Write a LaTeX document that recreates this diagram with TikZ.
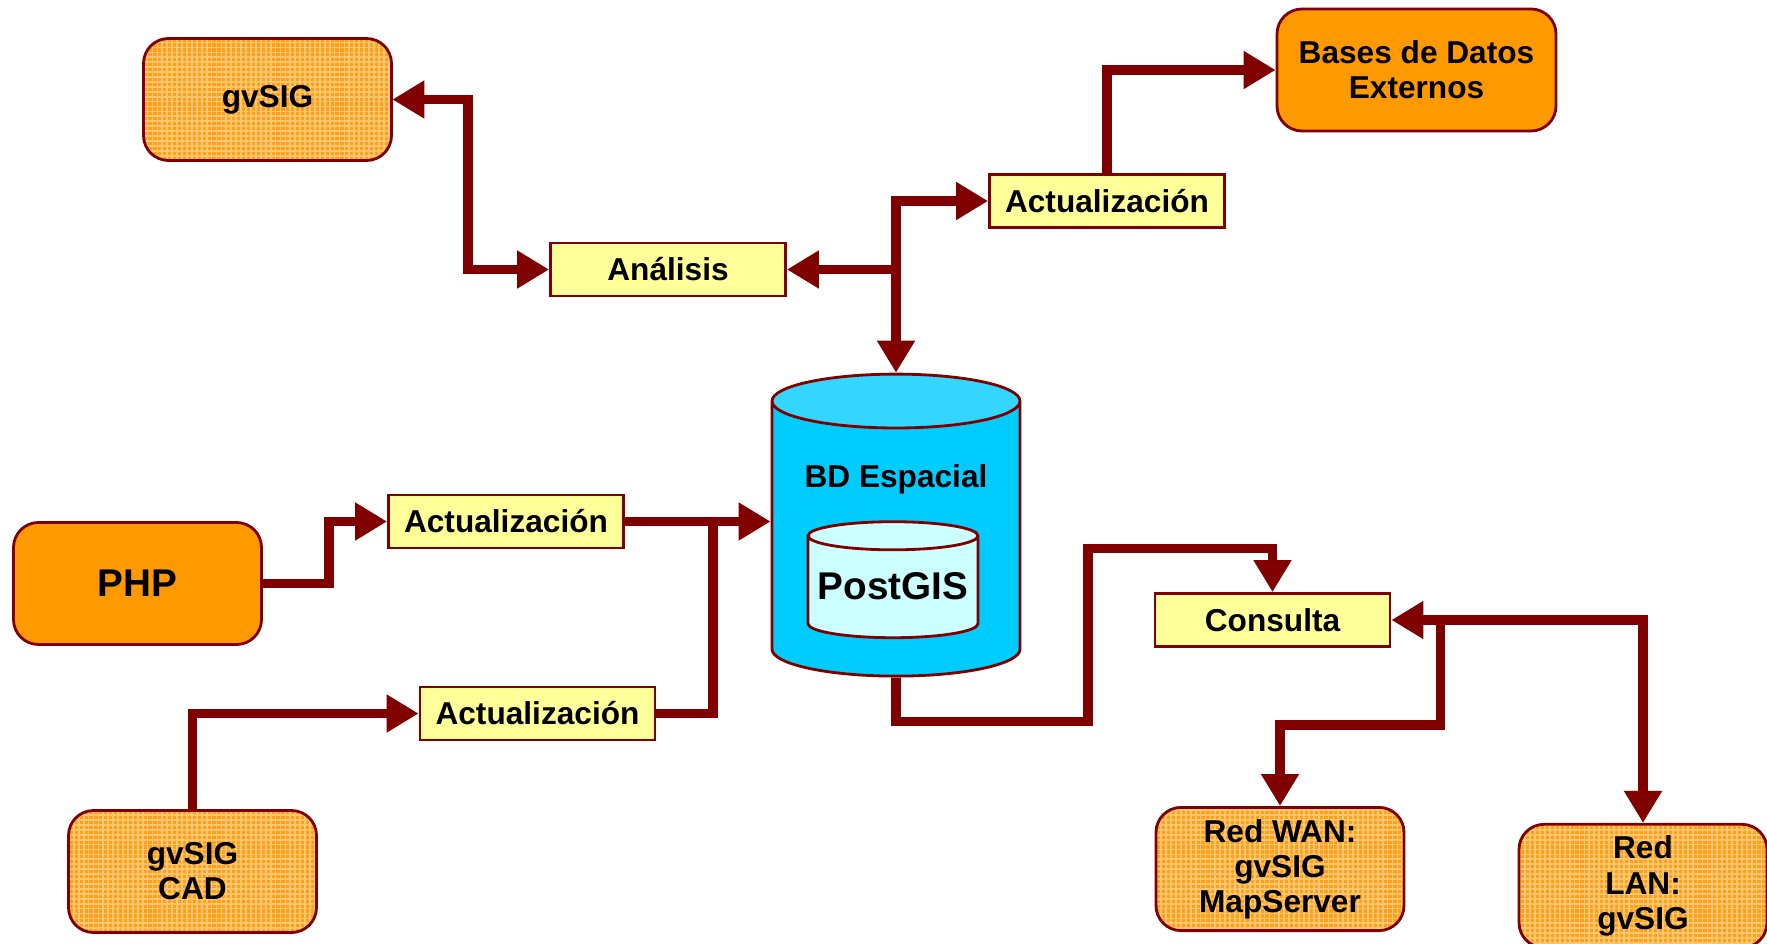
\documentclass[tikz,border=0pt]{standalone}
\usepackage{fontspec}
\setmainfont{Liberation Sans}
\usetikzlibrary{shapes.geometric,arrows.meta,patterns.meta}
\definecolor{linkred}{HTML}{800000}
\definecolor{apporange}{HTML}{FF9F1A}
\definecolor{applight}{HTML}{FFC870}
\definecolor{dataorange}{HTML}{FF9900}
\definecolor{stepyellow}{HTML}{FFFF99}
\definecolor{dbblue}{HTML}{00CCFF}
\definecolor{dbtop}{HTML}{33D6FF}
\definecolor{gislight}{HTML}{CCFFFF}
\begin{document}
\begin{tikzpicture}[>={Triangle[length=0.32cm,width=0.36cm]},
  main/.style = {draw=linkred, line width=0.8pt, rounded corners=0.25cm, minimum width=2.48cm, minimum height=1.22cm, align=center, font=\fontsize{9}{10}\selectfont\bfseries},
  app/.style = {main, preaction={fill=apporange}, pattern={Hatch[angle=0,distance=1.4pt,line width=0.5pt]}, pattern color=applight},
  data/.style = {main, fill=dataorange},
  stepbox/.style = {draw=linkred, line width=0.8pt, fill=stepyellow, minimum width=2.35cm, minimum height=0.53cm, inner sep=0pt, font=\fontsize{9}{10}\selectfont\bfseries},
  base/.style = {shape=cylinder, shape border rotate=90, draw=linkred, line width=0.8pt, cylinder uses custom fill},
  link/.style = {draw=linkred, line width=2.8pt}]
\useasboundingbox (0,0) rectangle (17.67,9.43);

\node[app] (1) at (2.675,8.435) {gvSIG};
\node[data, minimum width=2.79cm] (2) at (14.165,8.73) {Bases de Datos\\Externos};
\node[stepbox] (3) at (11.07,7.42) {Actualización};
\node[stepbox] (4) at (6.68,6.735) {Análisis};
\node[data, font=\fontsize{11}{13}\selectfont\bfseries] (5) at (1.375,3.595) {PHP};
\node[stepbox] (6) at (5.06,4.215) {Actualización};
\node[base, minimum width=2.48cm, minimum height=3.02cm, aspect=2.3, cylinder body fill=dbblue, cylinder end fill=dbtop] (7) at (8.96,3.98) {};
\node[font=\fontsize{9}{10}\selectfont\bfseries] (14) at (8.96,4.64) {BD Espacial};
\node[base, minimum width=1.70cm, minimum height=1.16cm, aspect=1.2, cylinder body fill=gislight, cylinder end fill=gislight] (8) at (8.93,3.52) {};
\node[font=\fontsize{11}{13}\selectfont\bfseries] (15) at (8.93,3.57) {PostGIS};
\node[stepbox] (9) at (5.375,2.295) {Actualización};
\node[app] (10) at (1.925,0.715) {gvSIG\\CAD};
\node[stepbox] (11) at (12.725,3.23) {Consulta};
\node[app] (12) at (12.80,0.74) {Red WAN:\\gvSIG\\MapServer};
\node[app] (13) at (16.43,0.57) {Red\\LAN:\\gvSIG};

\draw[link,<->] (1.east) -- ++(0.76,0) |- (4.west);
\draw[link,<->] (3.west) -| (7.north);
\draw[link,->] (7.north |- 4.east) -- (4.east);
\draw[link,->] (3.north) |- (2.west);
\draw[link,->] (5.east) -- ++(0.66,0) |- (6.west);
\draw[link,->] (6.east) -- (7.west |- 6.east);
\draw[link] (9.east) -- ++(0.57,0) coordinate (m) -- (m |- 6.east);
\draw[link,->] (10.north) |- (9.west);
\draw[link,->] (7.south) -- ++(0,-0.44) -- ++(1.92,0) -- ++(0,1.73) -| (11.north);
\draw[link,<->] (11.east) -| (13.north);
\draw[link,->] ([xshift=0.49cm]11.east) -- ++(0,-1.05) -| (12.north);

\end{tikzpicture}
\end{document}
